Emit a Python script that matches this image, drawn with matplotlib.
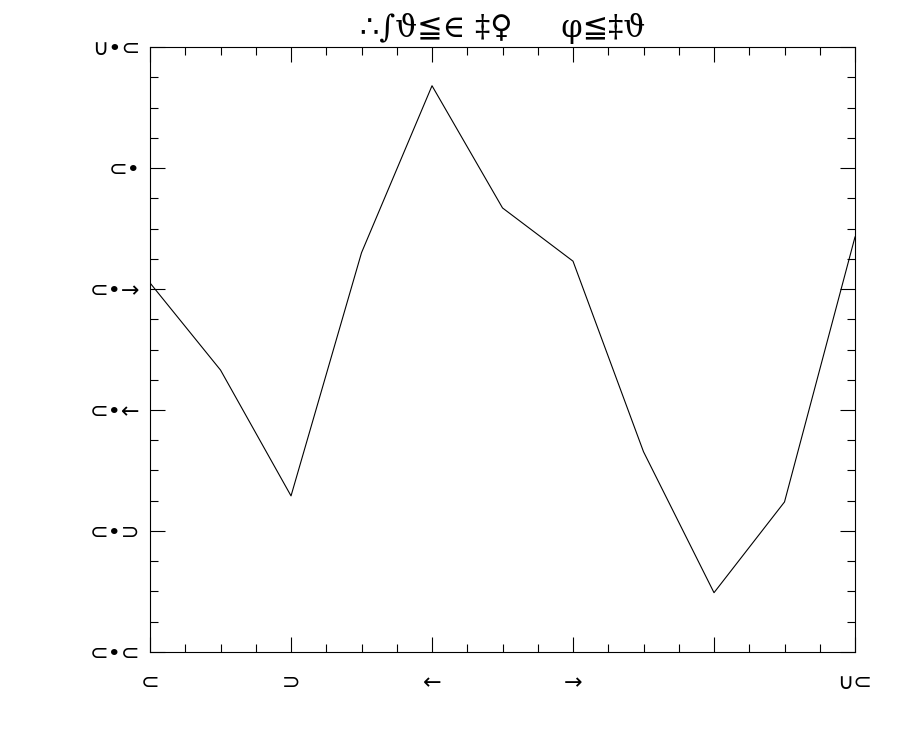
import matplotlib
matplotlib.use('Agg')
import matplotlib.pyplot as plt
from matplotlib.ticker import MultipleLocator

# values
x_vals = [0, 1, 2, 3, 4, 5, 6, 7, 8, 9, 10]
y_vals = [0.610, 0.466, 0.258, 0.660, 0.936, 0.734, 0.646, 0.331, 0.098, 0.248, 0.686]

x_ticks = [0, 2, 4, 6, 8, 10]
x_labels = ['⊂', '⊃', '←', '→', '', '∪⊂']
y_ticks = [0.0, 0.2, 0.4, 0.6, 0.8, 1.0]
y_labels = ['⊂•⊂', '⊂•⊃', '⊂•←', '⊂•→', '⊂•', '∪•⊂']
title = '∴∫ϑ≦∈ ‡♀     φ≦‡ϑ'

fig = plt.figure(figsize=(9, 7.5), dpi=100)
ax = fig.add_axes([0.1667, 0.1307, 0.7833, 0.8066])

ax.plot(x_vals, y_vals, color='black', linewidth=0.8)

ax.set_xlim(0, 10)
ax.set_ylim(0, 1)
ax.set_xticks(x_ticks)
ax.set_xticklabels(x_labels)
ax.set_yticks(y_ticks)
ax.set_yticklabels(y_labels)
ax.xaxis.set_minor_locator(MultipleLocator(0.5))
ax.yaxis.set_minor_locator(MultipleLocator(0.05))

ax.tick_params(which='both', direction='in', top=True, right=True, width=0.8)
ax.tick_params(which='major', length=11)
ax.tick_params(which='minor', length=5.5)
ax.tick_params(axis='x', which='major', pad=15, labelsize=16)
ax.tick_params(axis='y', which='major', pad=7, labelsize=16)
for s in ax.spines.values():
    s.set_linewidth(0.8)

ax.set_title(title, fontsize=22, family=['DejaVu Serif', 'DejaVu Sans'], pad=7)

fig.savefig('out.png', dpi=100)
